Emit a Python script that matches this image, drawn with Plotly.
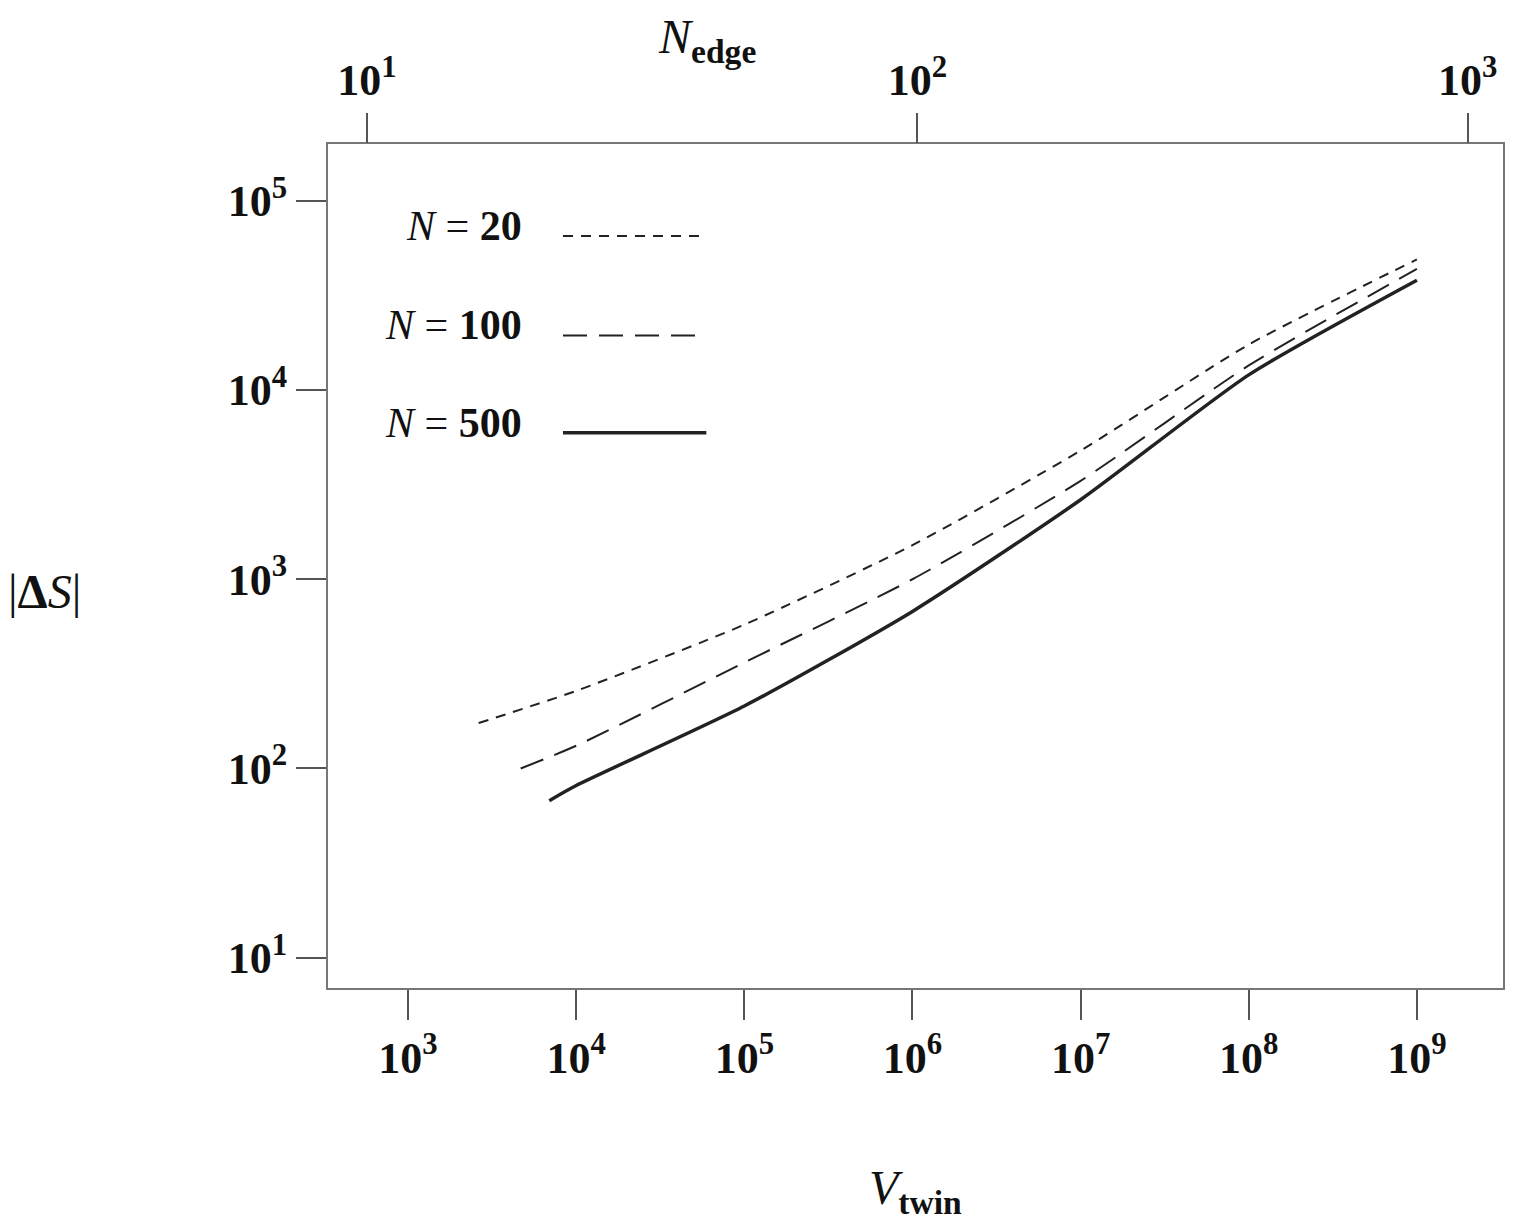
import plotly.graph_objects as go

# data (log10 values)
lx20 = [3.42, 4, 5, 6, 7, 8, 9.0]
ly20 = [2.24, 2.41, 2.76, 3.18, 3.68, 4.24, 4.69]
lx100 = [3.67, 4, 5, 6, 7, 8, 9.0]
ly100 = [2.0, 2.12, 2.56, 3.0, 3.52, 4.13, 4.64]
lx500 = [3.84, 4, 5, 6, 7, 8, 9.0]
ly500 = [1.83, 1.91, 2.33, 2.83, 3.42, 4.08, 4.58]
labels = ["N = 20", "N = 100", "N = 500"]
dashes = ["10px,8px", "24px,12px", "solid"]
widths = [2, 2, 3.5]

xt = [3, 4, 5, 6, 7, 8, 9]
yt = [1, 2, 3, 4, 5]
top_t = [1, 2, 3]

F = "Liberation Serif"
fig = go.Figure()
for lx, ly, d, w in [(lx20, ly20, dashes[0], widths[0]), (lx100, ly100, dashes[1], widths[1]), (lx500, ly500, dashes[2], widths[2])]:
    fig.add_trace(go.Scatter(x=[10**v for v in lx], y=[10**v for v in ly], mode="lines",
                             line=dict(color="#222", dash=d, width=w, smoothing=0.6), line_shape="spline", showlegend=False))
fig.add_trace(go.Scatter(x=[100], y=[100], xaxis="x2", mode="markers", marker=dict(opacity=0), showlegend=False, hoverinfo="skip"))

tf = dict(family=F, size=44, color="#111")
fig.update_layout(
    width=1517, height=1225, plot_bgcolor="white", paper_bgcolor="white",
    margin=dict(l=320, r=22, t=136, b=245, autoexpand=False),
    xaxis=dict(type="log", range=[2.524, 9.512], tickvals=[10**v for v in xt],
               ticktext=[f"<b>10<sup>{v}</sup></b>" for v in xt], ticks="outside", ticklen=30,
               tickcolor="#555", tickwidth=2, showline=True, linecolor="#777", linewidth=2, mirror=True,
               showgrid=False, tickfont=tf, zeroline=False),
    xaxis2=dict(type="log", range=[0.929, 3.064], overlaying="x", side="top",
                tickvals=[10**v for v in top_t], ticktext=[f"<b>10<sup>{v}</sup></b>" for v in top_t],
                ticks="outside", ticklen=30, tickcolor="#555", tickwidth=2, showgrid=False, tickfont=tf),
    yaxis=dict(type="log", range=[0.84, 5.30], tickvals=[10**v for v in yt],
               ticktext=[f"<b>10<sup>{v}</sup></b>" for v in yt], ticks="outside", ticklen=30,
               tickcolor="#555", tickwidth=2, showline=True, linecolor="#777", linewidth=2, mirror=True,
               showgrid=False, tickfont=tf, zeroline=False),
)
fig.add_annotation(text="<i>V</i><sub><b>twin</b></sub>", xref="paper", yref="paper", x=0.5, y=-0.24,
                   showarrow=False, font=dict(family=F, size=48, color="#111"), yanchor="middle")
fig.add_annotation(text="<i>N</i><sub><b>edge</b></sub>", xref="paper", yref="paper", x=0.279, y=1.085,
                   showarrow=False, font=dict(family=F, size=48, color="#111"), yanchor="bottom")
fig.add_annotation(text="|<b>Δ</b><i>S</i>|", xref="paper", yref="paper", x=-0.274, y=0.47,
                   xanchor="left", showarrow=False, font=dict(family=F, size=48, color="#111"))
ys = [0.891, 0.773, 0.658]
for lab, d, w, yy in zip(labels, dashes, widths, ys):
    n, v = lab.split(" = ")
    fig.add_annotation(text=f"<i>{n}</i> = <b>{v}</b>", xref="paper", yref="paper", x=0.167, y=yy + 0.012,
                       xanchor="right", yanchor="middle", showarrow=False, font=dict(family=F, size=42, color="#111"))
    fig.add_shape(type="line", xref="paper", yref="paper", x0=0.2, x1=0.322, y0=yy, y1=yy,
                  line=dict(color="#222", dash=d, width=w))
fig.write_html("out.html")
